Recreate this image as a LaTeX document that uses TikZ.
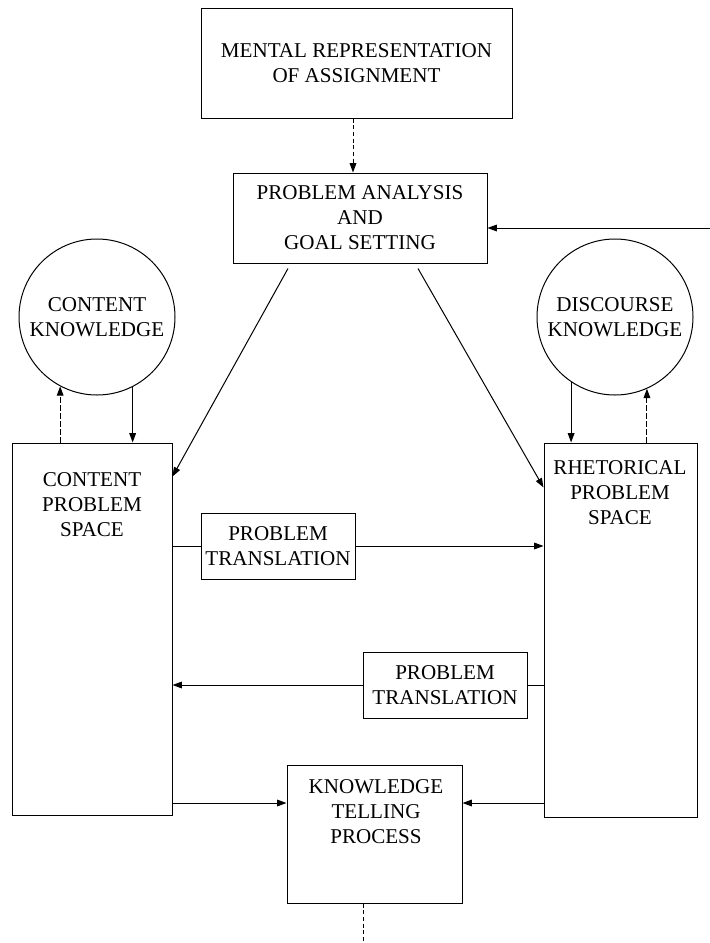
\documentclass[tikz,border=0pt]{standalone}
\usepackage{fontspec}
\setmainfont{Liberation Serif}
\usetikzlibrary{arrows.meta}

\tikzset{every picture/.style={line width=0.75pt}}
\tikzset{
	box/.style={draw, rectangle, inner sep=0pt, align=center, font=\fontsize{15.8}{18.75}\selectfont},
	txt/.style={inner sep=0pt, align=center, font=\fontsize{15.8}{18.75}\selectfont},
	knowcircle/.style={draw, circle, inner sep=0pt, minimum size=117pt, align=center, font=\fontsize{15.8}{18.75}\selectfont},
	flow/.style={-{Triangle[length=7pt,width=5pt]}},
	back/.style={flow, dash pattern=on 4pt off 2pt},
}

\begin{document}
\begin{tikzpicture}[x=0.75pt,y=0.75pt,yscale=-1,xscale=1]
	\useasboundingbox (0,0) rectangle (710,943);
	
	% boxes
	\node[box, minimum width=233.25pt, minimum height=82.5pt] (mra) at (356.5,63) {MENTAL REPRESENTATION\\OF ASSIGNMENT};
	\node[box, minimum width=190.5pt, minimum height=67.5pt] (pags) at (360,218) {PROBLEM ANALYSIS\\AND\\GOAL SETTING};
	\node[box, minimum width=120pt, minimum height=279pt] (cps) at (92,629) {};
	\node[box, minimum width=114.75pt, minimum height=280.5pt] (rps) at (620.5,630) {};
	\node[box, minimum width=115.5pt, minimum height=49.5pt] (pt1) at (278,546) {PROBLEM\\TRANSLATION};
	\node[box, minimum width=123pt, minimum height=49.5pt] (pt2) at (445,685) {PROBLEM\\TRANSLATION};
	\node[box, minimum width=131.25pt, minimum height=103.5pt] (ktp) at (374.5,834) {};
	
	% circles
	\node[knowcircle] (ck) at (97,317) {CONTENT\\KNOWLEDGE};
	\node[knowcircle] (dk) at (615,317) {DISCOURSE\\KNOWLEDGE};
	
	% Text Node
	\node[txt] (cpstext) at (92,505) {CONTENT\\PROBLEM\\SPACE};
	% Text Node
	\node[txt] (rpstext) at (620,493) {RHETORICAL\\PROBLEM\\SPACE};
	% Text Node
	\node[txt] (ktptext) at (376,812) {KNOWLEDGE\\TELLING\\PROCESS};
	
	% free ends
	\coordinate (fb) at (710,228);
	\coordinate (kin) at (374.5,803);
	\coordinate (out) at (363,943);
	
	% connectors
	\draw[flow, densely dashed] (mra.south -| 353,0) -- (pags.north -| 353,0);
	\draw[flow] (fb) -- (fb -| pags.east);
	\draw[flow] ([xshift=-54pt,yshift=3.75pt]pags.south) -- ([yshift=25.5pt]cps.north east);
	\draw[flow] ([xshift=43.5pt,yshift=3.75pt]pags.south) -- ([yshift=33.75pt]rps.north west);
	
	\draw[back] (ck.242 |- cps.north) -- (ck.242);
	\draw[flow] (ck.297) -- (ck.297 |- cps.north);
	\draw[flow] (dk.236) -- (dk.236 |- rps.north);
	\draw[back] (dk.294 |- rps.north) -- (dk.294);
	
	\draw (cps.east |- pt1.west) -- (pt1.west);
	\draw[flow] (pt1.east) -- (rps.west |- pt1.east);
	\draw (rps.west |- pt2.east) -- (pt2.east);
	\draw[flow] (pt2.west) -- (cps.east |- pt2.west);
	
	\draw[flow] (cps.east |- kin) -- (ktp.west |- kin);
	\draw[flow] (rps.west |- kin) -- (ktp.east |- kin);
	\draw[densely dashed] (ktp.south -| out) -- (out);
\end{tikzpicture}
\end{document}
